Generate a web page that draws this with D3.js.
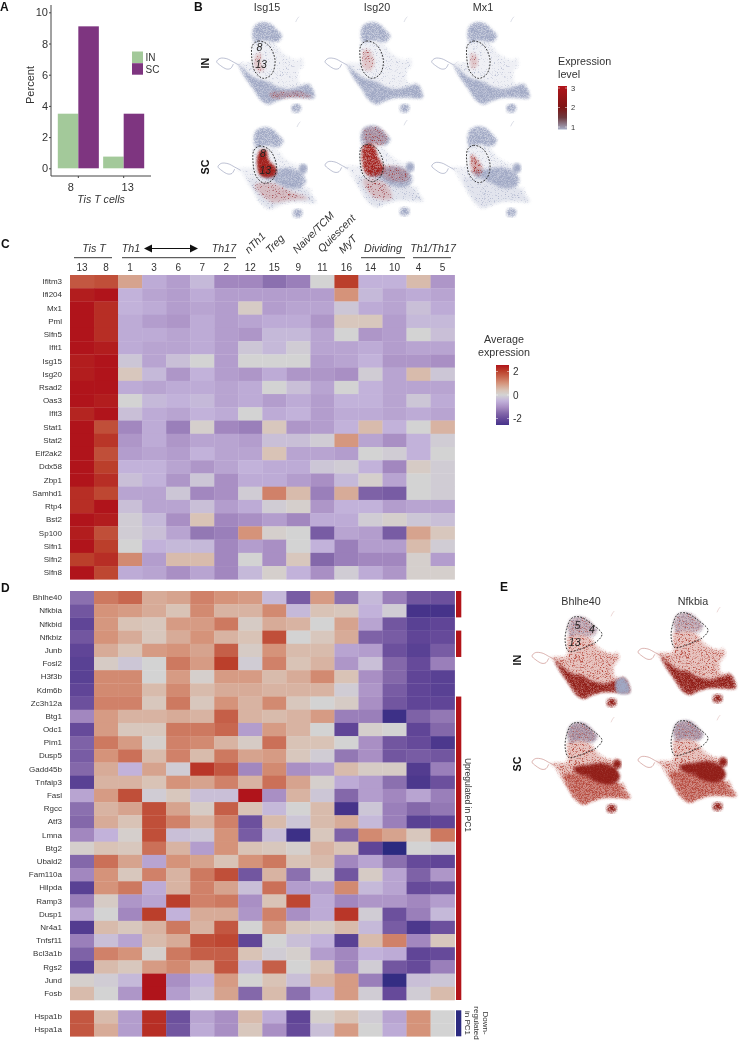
<!DOCTYPE html>
<html><head><meta charset="utf-8">
<script src="https://cdn.jsdelivr.net/npm/d3@7/dist/d3.min.js"></script>
<style>html,body{margin:0;padding:0;background:#fff}svg{display:block;opacity:.999}text{font-family:"Liberation Sans",Arial,sans-serif;fill:#333}</style>
</head><body><svg id="c" width="746" height="1041"></svg>
<script>
// ---------- Panel A ----------
const barCats = ["8","13"];
const barGroups = ["IN","SC"];
const barIN = [3.5,0.75];
const barSC = [9.1,3.5];
const barTicks = [0,2,4,6,8,10];
const barColors = ["#a3c99a","#7e3580"];

// ---------- Panels C/D ----------
const clusters = ["13","8","1","3","6","7","2","12","15","9","11","16","14","10","4","5"];
const genesC = ["Ifitm3","Ifi204","Mx1","Pml","Slfn5","Ifit1","Isg15","Isg20","Rsad2","Oas3","Ifit3","Stat1","Stat2","Eif2ak2","Ddx58","Zbp1","Samhd1","Rtp4","Bst2","Sp100","Slfn1","Slfn2","Slfn8"];
const valuesC = [
[1.7,1.8,0.8,-0.6,-0.8,-0.4,-1.1,-1.1,-1.4,-1.2,0,2.0,-0.5,-0.5,0.5,-0.9],
[2.4,2.5,-0.5,-0.7,-0.8,-0.6,-0.8,-0.8,-0.8,-0.8,-0.8,1.0,-0.4,-0.7,-0.6,-0.7],
[2.5,2.2,-0.5,-0.6,-0.8,-0.7,-0.8,0.2,-0.8,-0.7,-0.7,-0.2,-0.6,-0.7,-0.3,-0.6],
[2.5,2.2,-0.6,-0.8,-0.9,-0.6,-0.8,-0.7,-0.6,-0.6,-0.9,0.3,0.3,-0.8,-0.4,-0.4],
[2.5,2.2,-0.6,-0.6,-0.7,-0.6,-0.8,-0.9,-0.4,-0.4,-0.7,0,-0.9,-0.8,0,-0.3],
[2.5,2.4,-0.6,-0.7,-0.7,-0.6,-0.8,-0.2,-0.4,-0.1,-0.7,-0.7,-0.6,-0.8,-0.7,-0.7],
[2.4,2.5,-0.2,-0.7,-0.3,0,-0.8,0,0,0,-0.8,-0.7,-0.5,-0.9,-0.9,-1.0],
[2.4,2.5,0.3,-0.4,-0.9,-0.5,-0.8,-0.9,-0.6,-0.9,-0.9,-1.0,-0.1,-0.7,0.5,-0.2],
[2.5,2.5,-0.6,-0.7,-0.6,-0.6,-0.7,-0.6,0,-0.3,-0.7,0,-0.5,-0.7,-0.7,-0.7],
[2.5,2.4,0,-0.4,-0.5,-0.4,-0.7,-0.6,-0.8,-0.6,-0.8,-0.5,-0.5,-0.7,-0.2,-0.6],
[2.3,2.5,-0.3,-0.6,-0.7,-0.5,-0.6,0,-0.6,-0.5,-0.8,-0.6,-0.6,-0.7,-0.6,-0.7],
[2.5,1.8,-1.1,-0.6,-1.2,0.1,-1.1,-1.2,0.3,-0.9,-0.8,-0.5,0.5,-0.5,0,0.6],
[2.5,2.1,-0.9,-0.6,-0.9,-0.7,-0.7,-0.8,-0.3,-0.3,-0.1,0.95,-0.7,-1.0,-0.5,-0.1],
[2.5,1.8,-0.8,-0.7,-0.8,-0.5,-0.7,-0.7,0.4,-0.7,-0.7,-0.8,0,-0.1,-0.5,0],
[2.5,2.0,-0.5,-0.5,-0.7,-0.9,-0.7,-0.5,-0.6,-0.6,-0.2,-0.1,-0.5,-1.1,0.2,-0.1],
[2.5,2.2,-0.3,-0.5,-0.9,-0.2,-1.0,-0.6,-0.6,-0.8,-1.0,-0.4,0.1,-0.7,0,-0.1],
[2.2,1.9,-0.7,-0.7,-0.2,-1.1,-1.0,-0.1,1.2,0.5,-1.2,0.7,-1.6,-1.7,0,-0.1],
[2.2,2.5,-0.3,-0.7,-0.7,-0.3,-0.8,-0.6,-0.1,0.1,-0.9,-0.5,-0.5,-0.8,-0.7,-0.7],
[2.5,2.4,-0.1,-0.4,-1.0,0.4,-1.1,-1.0,-0.8,-1.1,-0.6,-0.6,-0.1,0.1,-0.2,-0.3],
[2.4,1.8,-0.1,-0.3,-0.7,-1.3,-1.2,1.0,0.1,0,-1.7,-0.7,-0.8,-1.7,0.8,0.3],
[2.5,2.0,0,-0.5,-0.4,-0.4,-1.1,-0.8,-1.0,0,-0.5,-1.2,-0.8,-0.8,0.5,-0.1],
[2.0,2.2,1.1,-0.8,0.5,0.5,-1.1,0,-1.0,0.3,-1.5,-1.2,-1.1,-1.1,0.1,-0.8],
[2.5,1.9,-0.6,-0.7,-1.0,-0.7,-1.1,-0.4,0.1,-0.5,-1.0,-0.1,-0.6,-0.9,0.1,0.1]];
const genesD = ["Bhlhe40","Nfkbia","Nfkbid","Nfkbiz","Junb","Fosl2","H3f3b","Kdm6b","Zc3h12a","Btg1","Odc1","Pim1","Dusp5","Gadd45b","Tnfaip3","Fasl","Rgcc","Atf3","Lmna","Btg2","Ubald2","Fam110a","Hilpda","Ramp3","Dusp1","Nr4a1","Tnfsf11","Bcl3a1b","Rgs2","Jund","Fosb"];
const valuesD = [
[-1.4,1.3,1.5,0.7,0.8,1.2,1.0,0.9,-0.4,-1.7,0.9,-1.4,-0.4,-1.2,-1.8,-1.9],
[-1.8,1.0,0.9,0.7,0.4,1.1,0.6,0.6,1.1,-0.4,0.4,0.3,-0.5,-0.1,-2.5,-2.5],
[-2.1,0.95,0.4,0.3,0.9,0.9,1.3,0.2,0.7,0.6,0,0.8,-0.7,-1.8,-2.2,-2.1],
[-1.8,1.0,0.7,0.3,0.7,1.0,0.6,0.4,1.8,0,0.3,0.7,-1.6,-1.7,-2.1,-2.0],
[-2.1,0.7,0.4,0.9,1.0,0.8,1.6,0.2,1.0,0.5,0.5,-0.7,-0.8,-1.9,-2.2,-1.7],
[-2.2,0.2,-0.2,0,1.3,0.9,2.0,-0.1,1.2,0.4,0.6,-0.9,-0.3,-1.5,-2.0,-1.2],
[-2.2,1.1,1.1,0,0.9,0.1,0.9,0.9,0.5,0.7,1.1,0.4,-1.0,-1.5,-2.1,-2.2],
[-2.1,1.1,1.1,0.5,1.1,0.5,0.7,0.7,0.6,0.6,0.6,-0.1,-0.9,-1.7,-2.1,-2.2],
[-1.9,1.2,1.2,0.3,1.3,0.3,1.0,0.6,1.1,0.3,0,0.2,-1.0,-1.8,-2.1,-2.1],
[-1.1,0.9,0.6,0.6,0.7,0.6,1.6,0.6,0.5,0.6,0.9,-1.2,-1.2,-2.6,-1.6,-1.3],
[-2.0,0.9,0.3,0.3,1.3,1.3,1.5,-0.8,0.9,0.6,0,-2.1,0.1,0,-2.1,-1.5],
[-1.6,1.3,0.9,0.1,1.2,1.1,0.6,0.2,1.4,0.4,0.4,0,-1.0,-1.8,-2.0,-2.4],
[-1.7,1.0,1.4,0.5,1.2,0.5,1.3,0.8,0.9,0.3,-0.1,-1.3,-1.0,-1.8,-1.7,-1.8],
[-1.5,0.7,-0.5,0.8,-0.1,2.1,1.7,-1.1,1.1,-1.0,-0.8,0.5,0.2,0.2,-2.3,-1.2],
[-2.2,0.6,0.6,0.4,1.0,0.8,1.2,0.6,1.4,0.8,0.1,-0.6,-0.8,-1.4,-2.4,-1.9],
[-0.7,0.9,1.8,-0.1,0.3,-0.3,-0.3,2.5,-1.0,0.6,-0.2,-1.5,-0.8,-1.1,-0.7,-1.2],
[-1.4,0.6,0.8,1.8,0.8,0.2,1.6,0.4,-0.4,0,0.5,-2.5,-0.2,-1.2,-1.5,-1.3],
[-1.5,0.7,0.4,1.8,1.2,0.6,1.2,-1.9,0.5,-0.2,0.5,0.7,-0.4,-1.2,-2.2,-2.1],
[-1.1,-0.5,0.1,1.8,-0.3,-0.2,1.0,-1.7,-0.3,-2.6,0.3,-1.6,1.1,0.8,0.3,1.3],
[0.1,0.4,0.3,1.4,0.6,-0.8,1.0,0.4,0.3,0.1,0.6,0.4,-2.1,-2.8,0,-0.1],
[-1.5,1.4,0.8,-0.7,1.0,0.8,0.4,1.0,1.3,0.4,0.5,-1.1,-0.7,-1.4,-2.0,-2.1],
[-1.1,1.0,0.3,1.2,0.6,1.3,1.8,-1.8,0.6,-1.4,0.1,-1.8,0.2,-0.7,-1.6,-0.9],
[-2.2,1.0,1.3,-0.6,0.6,1.2,0.8,-0.3,1.4,-0.8,-0.8,1.1,-0.4,-0.7,-2.0,-1.9],
[-1.2,0.2,-0.9,-0.7,2.0,1.2,1.3,-1.0,0.4,1.9,-0.6,-1.1,-0.9,-0.9,-1.1,-0.8],
[-0.7,0,-1.1,2.0,-0.5,0.7,0.7,-0.9,1.2,-1.0,-0.6,2.1,-0.1,-1.9,-1.2,-0.4],
[-2.3,0.5,0.3,0.6,1.3,0.6,1.7,0,0.9,0.3,0.2,0.5,-0.4,-1.7,-2.4,-1.9],
[-1.2,-0.3,-0.7,0.5,0.7,1.8,1.9,-2.1,0,-0.3,-0.5,-2.2,0.5,1.2,-1.1,0.3],
[-1.6,1.2,1.0,0.1,1.3,1.6,1.6,0.4,-0.1,0.1,-0.8,-1.1,-0.5,-0.6,-2.1,-2.0],
[-2.2,0.5,0.3,0.9,1.1,0.6,1.7,-0.4,1.6,0,0.4,-1.1,-0.1,-1.8,-2.0,-1.2],
[0.1,-0.1,-0.4,2.5,-1.0,-0.5,0.9,0,0.4,-0.3,0.6,0.9,-1.2,-2.7,-0.3,-0.2],
[0.5,0,-0.9,2.5,-0.8,-0.3,0.8,-1.5,0.5,-1.4,-0.5,0.9,-0.1,-2.0,-0.1,0.5]];
const genesD2 = ["Hspa1b","Hspa1a"];
const valuesD2 = [
[1.7,0.5,-0.8,2.2,-1.9,-0.7,-1.0,0.5,-0.6,-2.1,0.1,0.4,-0.1,-0.7,1.0,0],
[1.7,0.7,-0.8,2.2,-1.8,-0.6,-1.0,0.3,-1.0,-2.0,-0.3,0.9,0,-0.6,1.0,0]];
const heatStops = [-2.8,-2.5,-2,-1.5,-1,-0.5,0,0.4,1,1.5,2,2.5];
const heatCols  = ["#2b2a80","#46338a","#664a9a","#8468aa","#a98fc4","#c2b2da","#d3d3d3","#d9c3b6","#d5937a","#c8674f","#bb3f2b","#b0141b"];
const legendCTicks = [2,0,-2];
const upRanges = [["Bhlhe40","Nfkbia"],["Nfkbiz","Junb"],["Zc3h12a","Fosb"]];

// ---------- UMAP shapes (panel units) ----------
const shapeUpper = [[188,100],[195,78],[215,68],[240,72],[262,92],[275,108],[262,125],[240,122],[215,120],[195,126]];
const shapeBody = [[188,126],[220,120],[250,128],[285,165],[320,180],[336,175],[340,195],[325,215],[330,250],[355,250],[362,272],[374,292],[330,292],[290,292],[258,302],[235,312],[210,296],[190,265],[165,228],[148,198],[135,190],[160,188],[185,185]];
const shapeBand = [[148,196],[175,222],[200,238],[232,246],[262,262],[300,268],[340,258],[358,254],[372,292],[330,292],[290,293],[258,302],[235,312],[212,298],[190,265],[165,230]];
const shapeMidSC = [[205,205],[250,195],[290,190],[330,205],[342,232],[318,250],[280,245],[245,226],[222,220]];
const shapeLowerSC = [[175,222],[250,225],[330,240],[350,262],[375,292],[335,290],[295,292],[262,302],[235,312],[210,296],[190,265]];
const shapeKnob = [[325,190],[335,178],[346,186],[344,200],[330,204]];
const shapeSmall = [[305,322],[320,312],[333,322],[325,336],[310,335]];
const shapeTipBlue = [[335,258],[356,252],[372,294],[335,292]];
const lineLoop = [[148,196],[130,186],[110,176],[90,175],[80,185],[92,197],[110,207],[122,205],[130,192]];
const lineFrag = [[317,66],[322,56],[327,50]];
const outlineB = [[188,135],[205,123],[235,135],[255,180],[245,222],[220,235],[195,215],[185,170]];
const outlineE = [[200,71],[225,68],[255,86],[290,119],[275,141],[245,156],[220,166],[190,171],[180,146],[183,106]];

const hotIsg15IN = [[[198,165],[212,160],[215,195],[225,205],[210,215],[195,205]],[[240,280],[290,275],[330,275],[365,290],[300,292],[250,295]]];
const hotIsg15SC = [[[204,142],[222,136],[230,165],[252,190],[252,208],[228,216],[205,206]]];
const hotIsg15SCLow = [[[190,240],[240,235],[300,260],[350,280],[300,285],[240,290]]];
const hotIsg20IN = [[[196,150],[212,150],[228,190],[215,212],[196,205]]];
const hotIsg20SC = [[[196,128],[222,125],[240,165],[256,195],[245,214],[205,212]]];
const hotIsg20SCUp = [[[195,82],[235,72],[268,105],[250,125],[205,122]],[[255,190],[320,200],[330,230],[260,225]],[[195,230],[260,240],[280,285],[225,280]]];
const hotMx1IN = [[[198,160],[212,165],[218,195],[200,205]]];
const hotMx1SC = [[[200,150],[220,170],[232,195],[222,212],[204,205]]];

const exprStops = [1,1.55,2,3];
const exprCols = ["#a8afc8","#6e3a3f","#7d1515","#b2141a"];
const exprTicks = [3,2,1];

// ---------- helpers ----------
const svg = d3.select("#c");
const defs = svg.append("defs");
function grain(id, k, off, seed){
  const f = defs.append("filter").attr("id",id).attr("x","-10%").attr("y","-10%").attr("width","120%").attr("height","120%").attr("color-interpolation-filters","sRGB");
  f.append("feTurbulence").attr("type","fractalNoise").attr("baseFrequency",1.7).attr("numOctaves",1).attr("seed",seed).attr("result","n");
  f.append("feColorMatrix").attr("in","n").attr("type","matrix").attr("values",`0 0 0 0 0 0 0 0 0 0 0 0 0 0 0 ${k} 0 0 0 ${off}`).attr("result","a");
  f.append("feGaussianBlur").attr("in","SourceGraphic").attr("stdDeviation",1.5).attr("result","s");
  f.append("feComposite").attr("in","s").attr("in2","a").attr("operator","in").attr("result","c");
  f.append("feGaussianBlur").attr("in","c").attr("stdDeviation",0.3);
}
grain("gX",4,-2.3,6);
grain("gS",4,-2.0,3);
grain("gM",4,-1.75,8);
grain("gD",4,-1.4,5);
grain("gF",3,-0.6,11);
defs.append("filter").attr("id","haze").attr("x","-10%").attr("y","-10%").attr("width","120%").attr("height","120%").append("feGaussianBlur").attr("stdDeviation",1.5);
const hazeLevel = {gX:0.2,gS:0.32,gM:0.45,gD:0.6,gF:0.8};
function txt(g,x,y,s,o={}){
  const t=g.append("text").attr("x",x).attr("y",y).attr("font-size",o.size||10).text(s);
  if(o.anchor)t.attr("text-anchor",o.anchor);
  if(o.italic)t.attr("font-style","italic");
  if(o.bold)t.attr("font-weight","bold");
  if(o.rotate!==undefined)t.attr("transform",`rotate(${o.rotate} ${x} ${y})`);
  if(o.fill)t.style("fill",o.fill);
  return t;
}
for(const [l,x,y] of [["A",0,11],["B",194,11],["C",1,248],["D",1,592],["E",500,591]]) txt(svg,x,y,l,{size:12,bold:true,fill:"#111"});

// ---------- Panel A ----------
{
  const y=d3.scaleLinear().domain([0,10]).range([168.3,12.3]);
  const x=d3.scaleBand().domain(barCats).range([51,151]).paddingInner(0.095).paddingOuter(0.15);
  const xi=d3.scaleBand().domain(barGroups).range([0,x.bandwidth()]);
  [barIN,barSC].forEach((vals,gi)=>{
    svg.append("g").selectAll("rect").data(vals).join("rect")
      .attr("x",(d,i)=>x(barCats[i])+xi(barGroups[gi])).attr("width",xi.bandwidth())
      .attr("y",d=>y(d)).attr("height",d=>y(0)-y(d)).attr("fill",barColors[gi]);
  });
  const ay=svg.append("g").attr("transform","translate(51,0)").call(d3.axisLeft(y).tickValues(barTicks).tickSize(2).tickPadding(1));
  ay.select(".domain").attr("d","M0,5V176");
  const ax=svg.append("g").attr("transform","translate(0,176)").call(d3.axisBottom(x).tickSize(2).tickPadding(5));
  ax.select(".domain").attr("d","M51,0H151");
  [ay,ax].forEach(a=>{a.selectAll(".domain,line").attr("stroke","#444").attr("stroke-width",1);a.selectAll("text").attr("font-size",11).attr("font-family",null);});
  ax.selectAll("text").attr("dx",(d,i)=>[-7.5,4][i]);
  txt(svg,34,85,"Percent",{size:11,anchor:"middle",rotate:-90});
  txt(svg,101,203,"Tis T cells",{size:10.6,anchor:"middle",italic:true});
  barGroups.forEach((g,i)=>{
    svg.append("rect").attr("x",132).attr("y",51.5+i*11.7).attr("width",11).attr("height",11.5).attr("fill",barColors[i]);
    txt(svg,145.5,61+i*12,g,{size:10});
  });
}

// ---------- UMAP panels ----------
const ux=d3.scaleLinear().domain([80,380]).range([0,100]);
const uy=d3.scaleLinear().domain([68,368]).range([0,100]);
const closed=d3.line().x(d=>ux(d[0])).y(d=>uy(d[1])).curve(d3.curveCatmullRomClosed.alpha(0.5));
const open=d3.line().x(d=>ux(d[0])).y(d=>uy(d[1])).curve(d3.curveCatmullRom.alpha(0.5));
const BLUE="#a0a8c4", LBLUE="#aeb5cd", RED="#a3201c", DRED="#911e18", MRED="#b5483c", UPPERE="#9a9ab6";
function umap(left,top,layers,lineCol,outline,labels){
  const g=svg.append("g").attr("transform",`translate(${left},${top})`);
  layers.forEach(([shapes,col,f])=>{
    (Array.isArray(shapes[0][0])?shapes:[shapes]).forEach(s=>{
      const d=closed(s);
      g.append("path").attr("d",d).attr("fill",col).attr("opacity",hazeLevel[f]).attr("filter","url(#haze)");
      g.append("path").attr("d",d).attr("fill",col).attr("filter",`url(#${f})`);
    });
  });
  g.append("path").attr("d",open(lineLoop)).attr("fill","none").attr("stroke",lineCol).attr("stroke-width",0.8).attr("opacity",0.7);
  g.append("path").attr("d",open(lineFrag)).attr("fill","none").attr("stroke",lineCol).attr("stroke-width",0.5).attr("opacity",0.6);
  g.append("path").attr("d",closed(outline)).attr("fill","none").attr("stroke","#222").attr("stroke-width",0.9).attr("stroke-dasharray","1.8 1.4");
  (labels||[]).forEach(([s,x,y])=>txt(g,ux(x),uy(y),s,{size:10.5,italic:true,anchor:"middle",fill:"#222"}));
}
const baseIN=[[shapeBody,LBLUE,"gX"],[shapeUpper,BLUE,"gD"],[shapeBand,BLUE,"gD"],[shapeSmall,BLUE,"gD"]];
const baseSC=[[shapeBody,LBLUE,"gX"],[shapeLowerSC,LBLUE,"gX"],[shapeUpper,BLUE,"gD"],[shapeMidSC,BLUE,"gD"],[shapeKnob,BLUE,"gF"],[shapeSmall,BLUE,"gD"]];
const lab8IN=[["8",208,154],["13",213,204]], lab8SC=[["8",215,157],["13",222,207]];
umap(216.7,22.7,[...baseIN,[hotIsg15IN,RED,"gX"]],"#8890b0",outlineB,lab8IN);
umap(325,22.7,[...baseIN,[hotIsg20IN,RED,"gX"]],"#8890b0",outlineB);
umap(431.7,22.7,[...baseIN,[hotMx1IN,RED,"gX"]],"#8890b0",outlineB);
umap(218,127.7,[...baseSC,[hotIsg15SCLow,RED,"gX"],[hotIsg15SC,RED,"gF"]],"#8890b0",outlineB,lab8SC);
umap(325,126,[...baseSC,[hotIsg20SCUp,RED,"gX"],[hotIsg20SC,RED,"gD"]],"#8890b0",outlineB);
umap(431.7,127,[...baseSC,[hotMx1SC,RED,"gS"]],"#8890b0",outlineB);

const eIN=[[shapeBody,MRED,"gS"],[shapeUpper,UPPERE,"gM"],[shapeUpper,MRED,"gX"],[shapeBand,DRED,"gD"],[shapeSmall,DRED,"gD"]];
const eINb=[...eIN,[shapeTipBlue,BLUE,"gF"]];
const eSC=[[shapeBody,MRED,"gS"],[shapeLowerSC,MRED,"gM"],[shapeUpper,UPPERE,"gD"],[shapeUpper,MRED,"gX"],[shapeMidSC,DRED,"gF"],[shapeKnob,DRED,"gF"],[shapeSmall,DRED,"gD"]];
const lab5=[["5",216,105],["4",260,116],["13",208,154]];
umap(532,617,eINb,"#c07a74",outlineE,lab5);
umap(638,613,eIN,"#c07a74",outlineE);
umap(532,723,eSC,"#c07a74",outlineE);
umap(638,721,eSC,"#c07a74",outlineE);

for(const [s,x] of [["Isg15",267],["Isg20",377],["Mx1",483]]) txt(svg,x,11,s,{size:10.75,anchor:"middle"});
for(const [s,x] of [["Bhlhe40",581],["Nfkbia",693]]) txt(svg,x,605,s,{size:10.75,anchor:"middle"});
for(const [s,x,y] of [["IN",209,63],["SC",209,167],["IN",521,660],["SC",521,764]]) txt(svg,x,y,s,{size:10.75,bold:true,anchor:"middle",rotate:-90,fill:"#111"});

// ---------- Heatmaps ----------
const heat=d3.scaleLinear().domain(heatStops).range(heatCols).clamp(true);
const hx=d3.scaleBand().domain(clusters).range([70,454.6]);
function heatmap(genes,vals,y0,y1){
  const hy=d3.scaleBand().domain(genes).range([y0,y1]);
  const g=svg.append("g");
  g.selectAll("g").data(vals).join("g").attr("transform",(d,i)=>`translate(0,${hy(genes[i])})`)
   .selectAll("rect").data(d=>d).join("rect")
   .attr("x",(d,i)=>hx(clusters[i])).attr("width",hx.bandwidth()+0.3).attr("height",hy.bandwidth()+0.3).attr("fill",d=>heat(d));
  const a=svg.append("g").attr("transform","translate(64,0)").call(d3.axisLeft(hy).tickSize(0).tickPadding(2));
  a.select(".domain").remove();
  a.selectAll("text").attr("font-size",8).attr("font-family",null);
  return hy;
}
heatmap(genesC,valuesC,275,579.3);
const hyD=heatmap(genesD,valuesD,591,1000);
const hyD2=heatmap(genesD2,valuesD2,1010.3,1036.3);
// column labels
svg.append("g").attr("transform","translate(0,262)").call(d3.axisTop(hx).tickSize(0).tickPadding(-9))
  .call(a=>{a.select(".domain").remove();a.selectAll("text").attr("font-size",10).attr("font-family",null);});
// group labels
for(const [s,x,a1,a2] of [["Tis T",94,74,112],["Dividing",383,361,405],["Th1/Th17",433,413,451]]){
  txt(svg,x,252,s,{size:10.7,italic:true,anchor:"middle"});
  svg.append("line").attr("x1",a1).attr("x2",a2).attr("y1",257.7).attr("y2",257.7).attr("stroke","#222").attr("stroke-width",0.9);
}
txt(svg,131,252,"Th1",{size:10.7,italic:true,anchor:"middle"});
txt(svg,224,252,"Th17",{size:10.7,italic:true,anchor:"middle"});
svg.append("line").attr("x1",122).attr("x2",236).attr("y1",257.7).attr("y2",257.7).attr("stroke","#222").attr("stroke-width",0.9);
svg.append("line").attr("x1",148).attr("x2",192).attr("y1",248.5).attr("y2",248.5).attr("stroke","#111").attr("stroke-width",1);
svg.append("path").attr("d","M144,248.5L152,244.5V252.5Z M198,248.5L190,244.5V252.5Z").attr("fill","#111");
for(const [s,x,y] of [["nTh1",249,254],["Treg",270,254],["Naive/TCM",297,254],["Quiescent",322,253],["MyT",343,254]])
  txt(svg,x,y,s,{size:10.7,italic:true,rotate:-45});
// side bars of D
const rowH=hyD.bandwidth();
upRanges.forEach(([a,b])=>svg.append("rect").attr("x",456).attr("width",5.3).attr("y",hyD(a)).attr("height",hyD(b)+rowH-hyD(a)).attr("fill","#b2141a"));
svg.append("rect").attr("x",456).attr("width",5.3).attr("y",hyD2(genesD2[0])).attr("height",26).attr("fill","#2c2a80");
txt(svg,465,795,"Upregulated in PC1",{size:8.5,anchor:"middle",rotate:90});
txt(svg,465,1023,"in PC1",{size:8,anchor:"middle",rotate:90});
txt(svg,474,1023,"regulated",{size:8,anchor:"middle",rotate:90});
txt(svg,483,1023,"Down-",{size:8,anchor:"middle",rotate:90});

// ---------- Colour legends ----------
function colorbar(id,scale,stops,x,w,yTop,yBot,ticks,size,tx){
  const lg=defs.append("linearGradient").attr("id",id).attr("x1",0).attr("x2",0).attr("y1",1).attr("y2",0);
  stops.forEach(v=>lg.append("stop").attr("offset",(v-stops[0])/(stops[stops.length-1]-stops[0])).attr("stop-color",scale.c(v)));
  svg.append("rect").attr("x",x).attr("y",yTop).attr("width",w).attr("height",yBot-yTop).attr("fill",`url(#${id})`);
  ticks.forEach(t=>{
    const y=scale(t);
    svg.append("line").attr("x1",x).attr("x2",x+2).attr("y1",y).attr("y2",y).attr("stroke","#fff").attr("stroke-width",0.5);
    svg.append("line").attr("x1",x+w-2).attr("x2",x+w).attr("y1",y).attr("y2",y).attr("stroke","#fff").attr("stroke-width",0.5);
    txt(svg,tx,y+size*0.36,t,{size});
  });
}
{
  const s1=d3.scaleLinear().domain([1,3]).range([127,88]); s1.c=d3.scaleLinear().domain(exprStops).range(exprCols);
  colorbar("gExpr",s1,exprStops,558,9,86,129.5,exprTicks,7.5,571);
  txt(svg,558,64.5,"Expression",{size:10.75});
  txt(svg,558,77.5,"level",{size:10.75});
  const s2=d3.scaleLinear().domain([-2,2]).range([418.5,371.5]); s2.c=heat;
  colorbar("gHeat",s2,heatStops.filter(v=>v>=-2.5),496,13,365,425,legendCTicks,10,513);
  txt(svg,504,342.5,"Average",{size:10.75,anchor:"middle"});
  txt(svg,504,355.5,"expression",{size:10.75,anchor:"middle"});
}
</script></body></html>
